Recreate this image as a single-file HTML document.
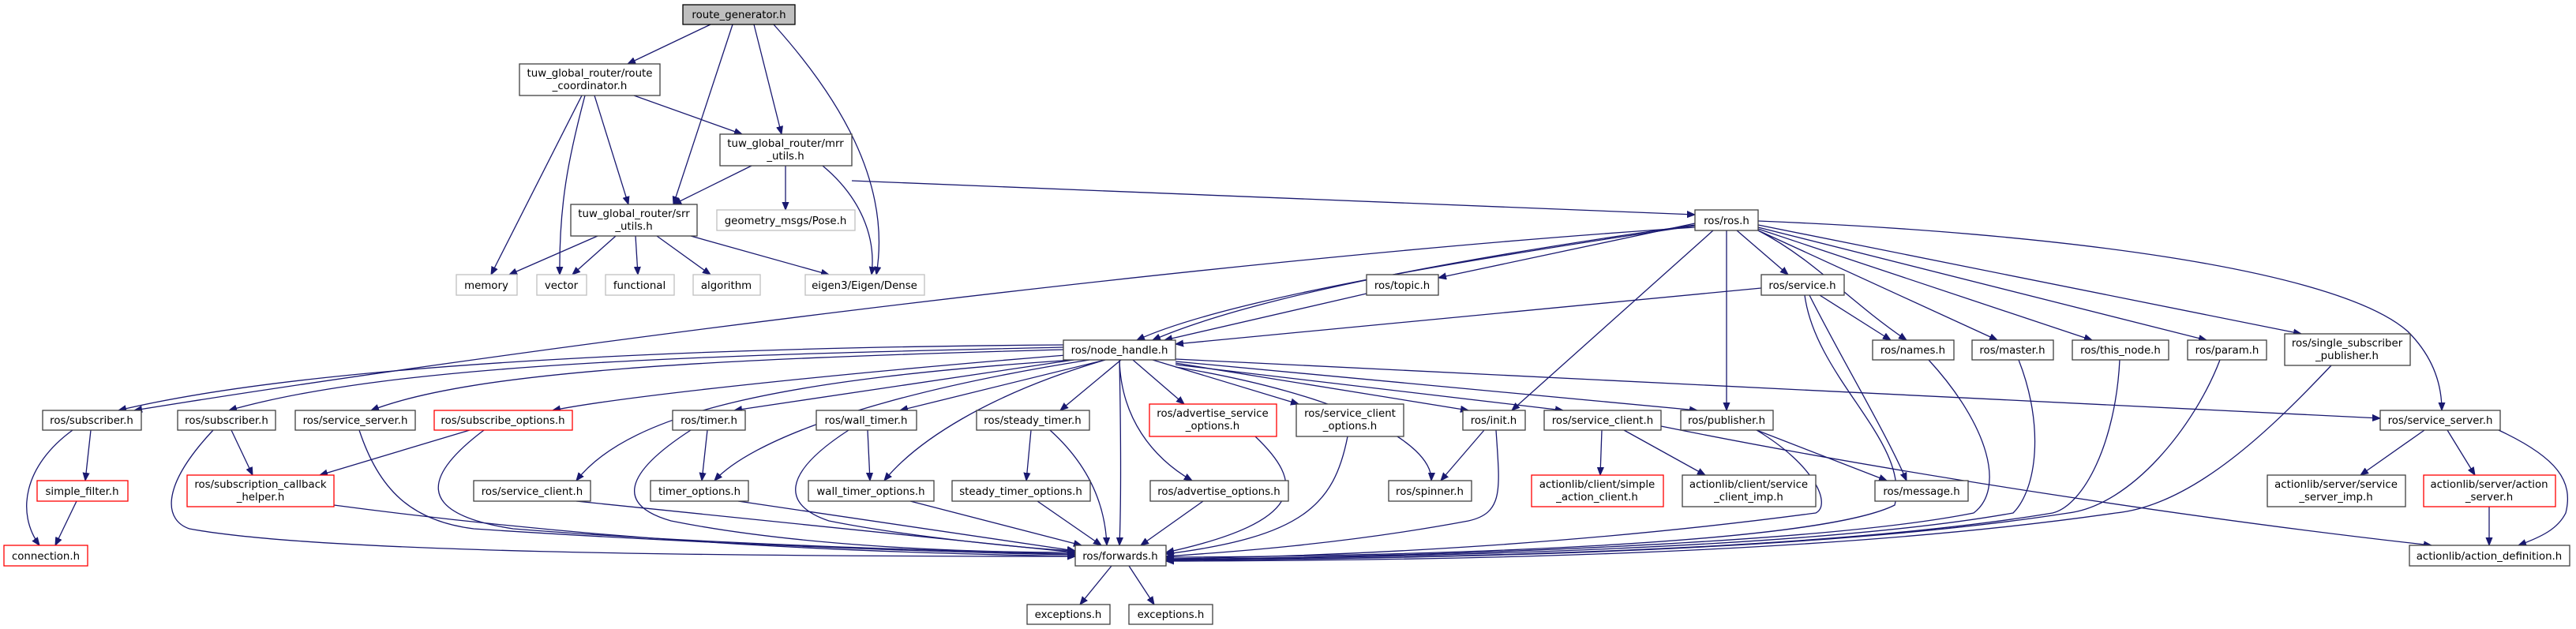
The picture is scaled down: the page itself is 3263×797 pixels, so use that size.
<!DOCTYPE html>
<html><head><meta charset="utf-8"><style>
html,body{margin:0;padding:0;background:#fff;}
svg{display:block;}
text{font-family:"DejaVu Sans","Liberation Sans",sans-serif;font-size:13.33px;fill:#000;text-anchor:middle;}
.n{fill:#fff;stroke:#404040;stroke-width:1.3;}
.g{fill:#fff;stroke:#bfbfbf;stroke-width:1.3;}
.r{fill:#fff;stroke:#ff0000;stroke-width:1.3;}
.e{fill:none;stroke:#191970;stroke-width:1.3;}
</style></head><body>
<svg width="3263" height="797" viewBox="0 0 3263 797" xmlns="http://www.w3.org/2000/svg">
<defs><marker id="a" viewBox="0 0 10 10" refX="10" refY="5" markerWidth="10" markerHeight="10" markerUnits="userSpaceOnUse" orient="auto"><path d="M0,1 L10,5 L0,9 z" fill="#191970" stroke="#191970"/></marker></defs>
<g class="e" marker-end="url(#a)">
<path d="M900,31 L795,81"/>
<path d="M928,31 L853,259"/>
<path d="M955,31 L990,170"/>
<path d="M980,31 C1060,120 1130,230 1110,348"/>
<path d="M737,121 L622,348"/>
<path d="M741,121 C720,200 708,260 709,348"/>
<path d="M753,121 L796,259"/>
<path d="M803,121 L940,170"/>
<path d="M952,210 L853,259"/>
<path d="M995,210 L995,266"/>
<path d="M1042,210 C1090,250 1110,300 1104,348"/>
<path d="M1079,229 L2147,272"/>
<path d="M757,299 L645,348"/>
<path d="M780,299 L725,348"/>
<path d="M805,299 L808,348"/>
<path d="M832,299 L900,348"/>
<path d="M875,299 L1050,348"/>
<path d="M1731,372 L1475,431"/>
<path d="M2147,283 L1822,352"/>
<path d="M2147,285 C1900,320 1600,370 1460,431"/>
<path d="M2147,286 C1850,330 1550,380 1440,431"/>
<path d="M2147,288 C1500,330 600,450 170,520"/>
<path d="M2200,292 L2265,348"/>
<path d="M2170,292 L1915,520"/>
<path d="M2187,292 L2187,520"/>
<path d="M2227,292 C2300,330 2340,380 2415,431"/>
<path d="M2227,292 L2530,431"/>
<path d="M2227,290 L2650,431"/>
<path d="M2227,288 L2795,431"/>
<path d="M2227,285 L2915,423"/>
<path d="M2227,280 C2600,295 2960,340 3050,420 C3090,460 3093,500 3093,520"/>
<path d="M2231,365 L1489,436"/>
<path d="M2305,374 L2395,431"/>
<path d="M2292,374 C2330,450 2390,550 2415,609"/>
<path d="M2286,374 C2300,480 2420,560 2400,640 C2300,690 1800,705 1477,706"/>
<path d="M1347,440 C900,450 500,460 290,520"/>
<path d="M1347,437 C900,440 400,460 150,520"/>
<path d="M1347,443 C900,455 600,470 470,520"/>
<path d="M1350,450 C1100,470 800,500 700,520"/>
<path d="M1360,456 L930,520"/>
<path d="M1400,456 L1140,520"/>
<path d="M1420,456 L1343,520"/>
<path d="M1360,456 C1000,480 800,520 730,609"/>
<path d="M1380,456 C1100,500 950,560 905,609"/>
<path d="M1400,456 C1250,500 1160,560 1120,609"/>
<path d="M1435,456 L1500,512"/>
<path d="M1460,456 L1645,512"/>
<path d="M1418,456 C1420,530 1460,580 1510,609"/>
<path d="M1489,460 L1860,520"/>
<path d="M1489,462 L1980,520"/>
<path d="M1489,465 C1700,500 1815,560 1813,609"/>
<path d="M1489,458 L2150,520"/>
<path d="M1489,455 L3015,530"/>
<path d="M1418,456 C1420,560 1420,640 1418,691"/>
<path d="M115,545 L108,609"/>
<path d="M92,545 C30,590 20,650 50,691"/>
<path d="M97,635 L70,691"/>
<path d="M293,545 L320,602"/>
<path d="M270,545 C200,620 210,660 240,670 C400,700 900,705 1362,705"/>
<path d="M455,545 C480,620 520,660 600,670 C900,690 1200,700 1362,703"/>
<path d="M595,545 L405,602"/>
<path d="M613,545 C540,600 520,650 650,670 C900,690 1200,698 1362,702"/>
<path d="M423,640 C800,690 1100,700 1362,705"/>
<path d="M730,635 L1362,700"/>
<path d="M896,545 L889,609"/>
<path d="M875,545 C790,600 780,640 850,660 C1000,690 1200,700 1362,700"/>
<path d="M935,635 L1362,698"/>
<path d="M1099,545 L1102,609"/>
<path d="M1075,545 C990,600 990,640 1050,660 C1150,680 1300,695 1362,698"/>
<path d="M1153,635 L1370,691"/>
<path d="M1306,545 L1300,609"/>
<path d="M1330,545 C1380,590 1400,640 1402,691"/>
<path d="M1314,635 L1395,691"/>
<path d="M1590,553 C1650,610 1660,660 1477,700"/>
<path d="M1707,553 C1690,640 1650,680 1477,702"/>
<path d="M1524,635 L1445,691"/>
<path d="M1880,545 L1825,609"/>
<path d="M1895,545 C1900,620 1905,650 1860,660 C1700,690 1550,700 1477,705"/>
<path d="M2029,545 L2027,602"/>
<path d="M2057,545 L2160,602"/>
<path d="M2104,540 C2400,600 2800,660 3080,691"/>
<path d="M2225,545 L2390,609"/>
<path d="M2225,545 C2300,590 2320,640 2300,650 C2000,690 1700,705 1477,708"/>
<path d="M2443,456 C2520,540 2540,620 2500,650 C2300,690 1800,705 1477,709"/>
<path d="M2557,456 C2590,540 2580,620 2550,650 C2300,695 1800,706 1477,709"/>
<path d="M2685,456 C2680,560 2640,640 2600,650 C2300,700 1800,707 1477,710"/>
<path d="M2812,456 C2780,540 2700,640 2620,650 C2300,700 1800,708 1477,710"/>
<path d="M2953,463 C2880,540 2780,640 2680,650 C2300,705 1800,710 1477,711"/>
<path d="M3071,545 L2990,602"/>
<path d="M3100,545 L3135,602"/>
<path d="M3165,545 C3240,580 3260,610 3250,650 C3240,670 3220,680 3190,691"/>
<path d="M3153,642 L3153,691"/>
<path d="M1408,717 L1368,766"/>
<path d="M1430,717 L1462,766"/>
</g>
<rect x="865" y="6" width="142" height="25" style="fill:#bfbfbf;stroke:#000;stroke-width:1.3"/><text x="936" y="23">route_generator.h</text>
<rect class="n" x="658" y="81" width="178" height="40"/><text x="747" y="97">tuw_global_router/route</text><text x="747" y="113">_coordinator.h</text>
<rect class="n" x="912" y="170" width="167" height="40"/><text x="995" y="186">tuw_global_router/mrr</text><text x="995" y="202">_utils.h</text>
<rect class="n" x="723" y="259" width="160" height="40"/><text x="803" y="275">tuw_global_router/srr</text><text x="803" y="291">_utils.h</text>
<rect class="g" x="908" y="266" width="175" height="26"/><text x="995" y="284">geometry_msgs/Pose.h</text>
<rect class="g" x="578" y="348" width="77" height="26"/><text x="616" y="366">memory</text>
<rect class="g" x="680" y="348" width="63" height="26"/><text x="711" y="366">vector</text>
<rect class="g" x="767" y="348" width="87" height="26"/><text x="810" y="366">functional</text>
<rect class="g" x="878" y="348" width="85" height="26"/><text x="920" y="366">algorithm</text>
<rect class="g" x="1020" y="348" width="151" height="26"/><text x="1095" y="366">eigen3/Eigen/Dense</text>
<rect class="n" x="2147" y="266" width="80" height="26"/><text x="2187" y="284">ros/ros.h</text>
<rect class="n" x="1731" y="348" width="91" height="26"/><text x="1776" y="366">ros/topic.h</text>
<rect class="n" x="2231" y="348" width="105" height="26"/><text x="2283" y="366">ros/service.h</text>
<rect class="n" x="1347" y="431" width="142" height="25"/><text x="1418" y="448">ros/node_handle.h</text>
<rect class="n" x="2372" y="431" width="103" height="25"/><text x="2423" y="448">ros/names.h</text>
<rect class="n" x="2498" y="431" width="103" height="25"/><text x="2549" y="448">ros/master.h</text>
<rect class="n" x="2625" y="431" width="122" height="25"/><text x="2686" y="448">ros/this_node.h</text>
<rect class="n" x="2771" y="431" width="100" height="25"/><text x="2821" y="448">ros/param.h</text>
<rect class="n" x="2894" y="423" width="159" height="40"/><text x="2973" y="439">ros/single_subscriber</text><text x="2973" y="455">_publisher.h</text>
<rect class="n" x="54" y="520" width="125" height="25"/><text x="116" y="537">ros/subscriber.h</text>
<rect class="n" x="225" y="520" width="124" height="25"/><text x="287" y="537">ros/subscriber.h</text>
<rect class="n" x="374" y="520" width="152" height="25"/><text x="450" y="537">ros/service_server.h</text>
<rect class="r" x="550" y="520" width="175" height="25"/><text x="637" y="537">ros/subscribe_options.h</text>
<rect class="n" x="852" y="520" width="92" height="25"/><text x="898" y="537">ros/timer.h</text>
<rect class="n" x="1034" y="520" width="127" height="25"/><text x="1097" y="537">ros/wall_timer.h</text>
<rect class="n" x="1237" y="520" width="143" height="25"/><text x="1308" y="537">ros/steady_timer.h</text>
<rect class="r" x="1456" y="512" width="161" height="41"/><text x="1536" y="528">ros/advertise_service</text><text x="1536" y="544">_options.h</text>
<rect class="n" x="1642" y="512" width="136" height="41"/><text x="1710" y="528">ros/service_client</text><text x="1710" y="544">_options.h</text>
<rect class="n" x="1853" y="520" width="79" height="25"/><text x="1892" y="537">ros/init.h</text>
<rect class="n" x="1956" y="520" width="148" height="25"/><text x="2030" y="537">ros/service_client.h</text>
<rect class="n" x="2129" y="520" width="117" height="25"/><text x="2187" y="537">ros/publisher.h</text>
<rect class="n" x="3015" y="520" width="152" height="25"/><text x="3091" y="537">ros/service_server.h</text>
<rect class="r" x="47" y="609" width="115" height="26"/><text x="104" y="627">simple_filter.h</text>
<rect class="r" x="237" y="602" width="186" height="40"/><text x="330" y="618">ros/subscription_callback</text><text x="330" y="634">_helper.h</text>
<rect class="n" x="600" y="609" width="148" height="26"/><text x="674" y="627">ros/service_client.h</text>
<rect class="n" x="824" y="609" width="124" height="26"/><text x="886" y="627">timer_options.h</text>
<rect class="n" x="1024" y="609" width="159" height="26"/><text x="1103" y="627">wall_timer_options.h</text>
<rect class="n" x="1206" y="609" width="175" height="26"/><text x="1293" y="627">steady_timer_options.h</text>
<rect class="n" x="1457" y="609" width="175" height="26"/><text x="1544" y="627">ros/advertise_options.h</text>
<rect class="n" x="1759" y="609" width="105" height="26"/><text x="1811" y="627">ros/spinner.h</text>
<rect class="r" x="1940" y="602" width="167" height="40"/><text x="2023" y="618">actionlib/client/simple</text><text x="2023" y="634">_action_client.h</text>
<rect class="n" x="2131" y="602" width="169" height="40"/><text x="2215" y="618">actionlib/client/service</text><text x="2215" y="634">_client_imp.h</text>
<rect class="n" x="2375" y="609" width="118" height="26"/><text x="2434" y="627">ros/message.h</text>
<rect class="n" x="2872" y="602" width="175" height="40"/><text x="2959" y="618">actionlib/server/service</text><text x="2959" y="634">_server_imp.h</text>
<rect class="r" x="3070" y="602" width="167" height="40"/><text x="3153" y="618">actionlib/server/action</text><text x="3153" y="634">_server.h</text>
<rect class="r" x="5" y="691" width="106" height="26"/><text x="58" y="709">connection.h</text>
<rect class="n" x="1362" y="691" width="115" height="26"/><text x="1419" y="709">ros/forwards.h</text>
<rect class="n" x="3052" y="691" width="203" height="26"/><text x="3153" y="709">actionlib/action_definition.h</text>
<rect class="n" x="1301" y="766" width="105" height="25"/><text x="1353" y="783">exceptions.h</text>
<rect class="n" x="1430" y="766" width="106" height="25"/><text x="1483" y="783">exceptions.h</text>
</svg>
</body></html>
